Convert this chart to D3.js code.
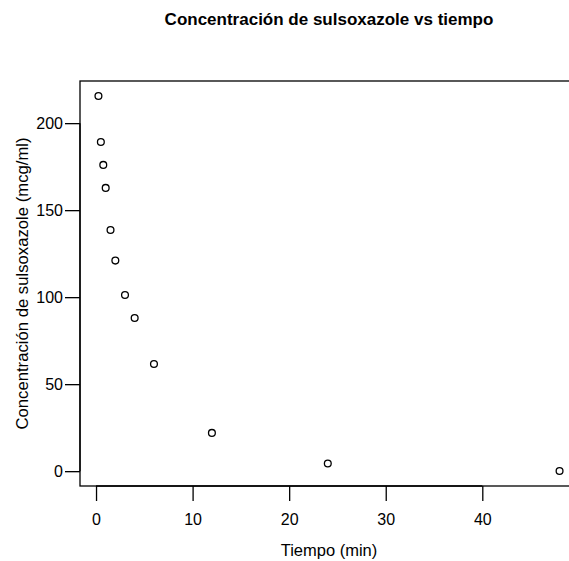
<!DOCTYPE html>
<html>
<head>
<meta charset="utf-8">
<script src="https://cdn.jsdelivr.net/npm/d3@7"></script>
<style>
  body { margin: 0; background: #fff; }
  text { font-family: "Liberation Sans", Arial, sans-serif; }
</style>
</head>
<body>
<svg width="569" height="561"></svg>
<script>
// sulfisoxazole data
var tiempo = [0.25, 0.5, 0.75, 1, 1.5, 2, 3, 4, 6, 12, 24, 48];
var concentracion = [215.6, 189.2, 176.0, 162.8, 138.6, 121.0, 101.2, 88.0, 61.6, 22.0, 4.4, 0.1];
var xTicks = [0, 10, 20, 30, 40];
var yTicks = [0, 50, 100, 150, 200];

var svg = d3.select("svg");

// plot box (R pads the data range by 4% each side)
var boxLeft = 80, boxRight = 578, boxTop = 81, boxBottom = 486;

function padded(v) {
	var e = d3.extent(v), p = (e[1] - e[0]) * 0.04;
	return [e[0] - p, e[1] + p];
}

var x = d3.scaleLinear().domain(padded(tiempo)).range([boxLeft, boxRight]);
var y = d3.scaleLinear().domain(padded(concentracion)).range([boxBottom, boxTop]);

svg.append("rect")
	.attr("x", boxLeft).attr("y", boxTop)
	.attr("width", boxRight - boxLeft).attr("height", boxBottom - boxTop)
	.attr("fill", "none").attr("stroke", "#000").attr("stroke-width", 1.3);

var gx = svg.append("g")
	.attr("transform", "translate(0," + boxBottom + ")")
	.call(d3.axisBottom(x).tickValues(xTicks).tickSize(15).tickPadding(13));
gx.select(".domain")
	.attr("d", "M" + x(xTicks[0]) + ",0H" + x(xTicks[xTicks.length - 1]));

var gy = svg.append("g")
	.attr("transform", "translate(" + boxLeft + ",0)")
	.call(d3.axisLeft(y).tickValues(yTicks).tickSize(15).tickPadding(2));
gy.select(".domain")
	.attr("d", "M0," + y(yTicks[0]) + "V" + y(yTicks[yTicks.length - 1]));

svg.selectAll(".tick line, .domain").attr("stroke-width", 1.3);
svg.selectAll(".tick text")
	.attr("font-size", 16)
	.attr("font-family", "Liberation Sans, Arial, sans-serif")
	.attr("fill", "#000");

svg.append("g")
	.selectAll("circle")
	.data(tiempo)
	.enter().append("circle")
		.attr("cx", function(d) { return x(d); })
		.attr("cy", function(d, i) { return y(concentracion[i]); })
		.attr("r", 3.4)
		.attr("fill", "none")
		.attr("stroke", "#000")
		.attr("stroke-width", 1.3);

svg.append("text")
	.attr("x", (boxLeft + boxRight) / 2)
	.attr("y", 25)
	.attr("text-anchor", "middle")
	.attr("font-size", 17)
	.attr("font-weight", "bold")
	.text("Concentración de sulsoxazole vs tiempo");

svg.append("text")
	.attr("x", (boxLeft + boxRight) / 2)
	.attr("y", 556)
	.attr("text-anchor", "middle")
	.attr("font-size", 16.5)
	.text("Tiempo (min)");

svg.append("text")
	.attr("transform", "translate(28," + (boxTop + boxBottom) / 2 + ") rotate(-90)")
	.attr("text-anchor", "middle")
	.attr("font-size", 16.7)
	.text("Concentración de sulsoxazole (mcg/ml)");
</script>
</body>
</html>
